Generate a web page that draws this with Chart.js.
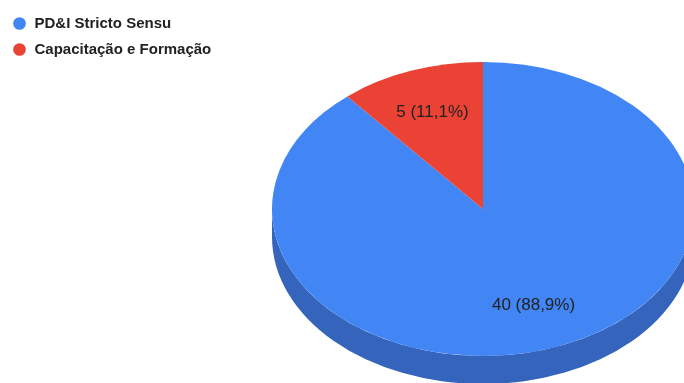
<!DOCTYPE html>
<html>
<head>
<meta charset="utf-8">
<script src="https://cdn.jsdelivr.net/npm/chart.js@4.4.1/dist/chart.umd.min.js"></script>
<style>
  html, body { margin: 0; padding: 0; background: #fff; }
  #wrap { width: 684px; height: 383px; position: relative; }
</style>
</head>
<body>
<div id="wrap"><canvas id="chart" width="684" height="383"></canvas></div>
<script>
const categories = ["PD&I Stricto Sensu", "Capacitação e Formação"];
const counts = [40, 5];
const sliceLabels = ["40 (88,9%)", "5 (11,1%)"];
const sliceColors = ["#4285f4", "#ea4335"];
const sideColors = ["#3464bb", "#b5342a"];

// 3d pie geometry (top face ellipse + depth)
const CX = 483, CY = 209, RX = 211, RY = 147, DEPTH = 28;

function frontParts(a1, a2) {
  // the visible side wall is the lower half, angles 0..PI (+ k*2PI)
  const parts = [];
  for (const k of [-2 * Math.PI, 0, 2 * Math.PI]) {
    const s = Math.max(a1, k), e = Math.min(a2, k + Math.PI);
    if (e > s) parts.push([s, e]);
  }
  return parts;
}

const tiltPlugin = {
  id: "tilt",
  beforeDatasetsDraw(chart) {
    const ctx = chart.ctx;
    const arcs = chart.getDatasetMeta(0).data;
    arcs.forEach((arc, i) => {
      frontParts(arc.startAngle, arc.endAngle).forEach(([s, e]) => {
        ctx.beginPath();
        ctx.ellipse(CX, CY, RX, RY, 0, s, e);
        ctx.ellipse(CX, CY + DEPTH, RX, RY, 0, e, s, true);
        ctx.closePath();
        ctx.fillStyle = sideColors[i];
        ctx.fill();
      });
    });
    ctx.save();
    ctx.translate(CX, CY);
    ctx.scale(1, RY / RX);
    ctx.translate(-arcs[0].x, -arcs[0].y);
  },
  afterDatasetsDraw(chart) {
    const ctx = chart.ctx;
    ctx.restore();
    const arcs = chart.getDatasetMeta(0).data;
    ctx.save();
    ctx.font = "17px 'Liberation Sans', Arial, sans-serif";
    ctx.fillStyle = "#222";
    ctx.textAlign = "center";
    ctx.textBaseline = "middle";
    arcs.forEach((arc, i) => {
      const mid = (arc.startAngle + arc.endAngle) / 2;
      const x = CX + 0.7 * RX * Math.cos(mid);
      const y = CY + 0.7 * RY * Math.sin(mid);
      ctx.fillText(sliceLabels[i], x, y);
    });
    ctx.restore();
  }
};

new Chart(document.getElementById("chart"), {
  type: "pie",
  data: {
    labels: categories,
    datasets: [{
      data: counts,
      backgroundColor: sliceColors,
      borderWidth: 0,
      clip: false
    }]
  },
  options: {
    responsive: false,
    animation: false,
    events: [],
    radius: RX,
    rotation: 0,
    layout: { padding: { top: 5, left: 1 } },
    plugins: {
      legend: {
        position: "left",
        align: "start",
        labels: {
          usePointStyle: true,
          pointStyle: "circle",
          boxWidth: 15,
          boxHeight: 9,
          padding: 11,
          color: "#222",
          font: { family: "'Liberation Sans', Arial, sans-serif", size: 15, weight: "bold" }
        }
      },
      tooltip: { enabled: false }
    }
  },
  plugins: [tiltPlugin]
});
</script>
</body>
</html>
